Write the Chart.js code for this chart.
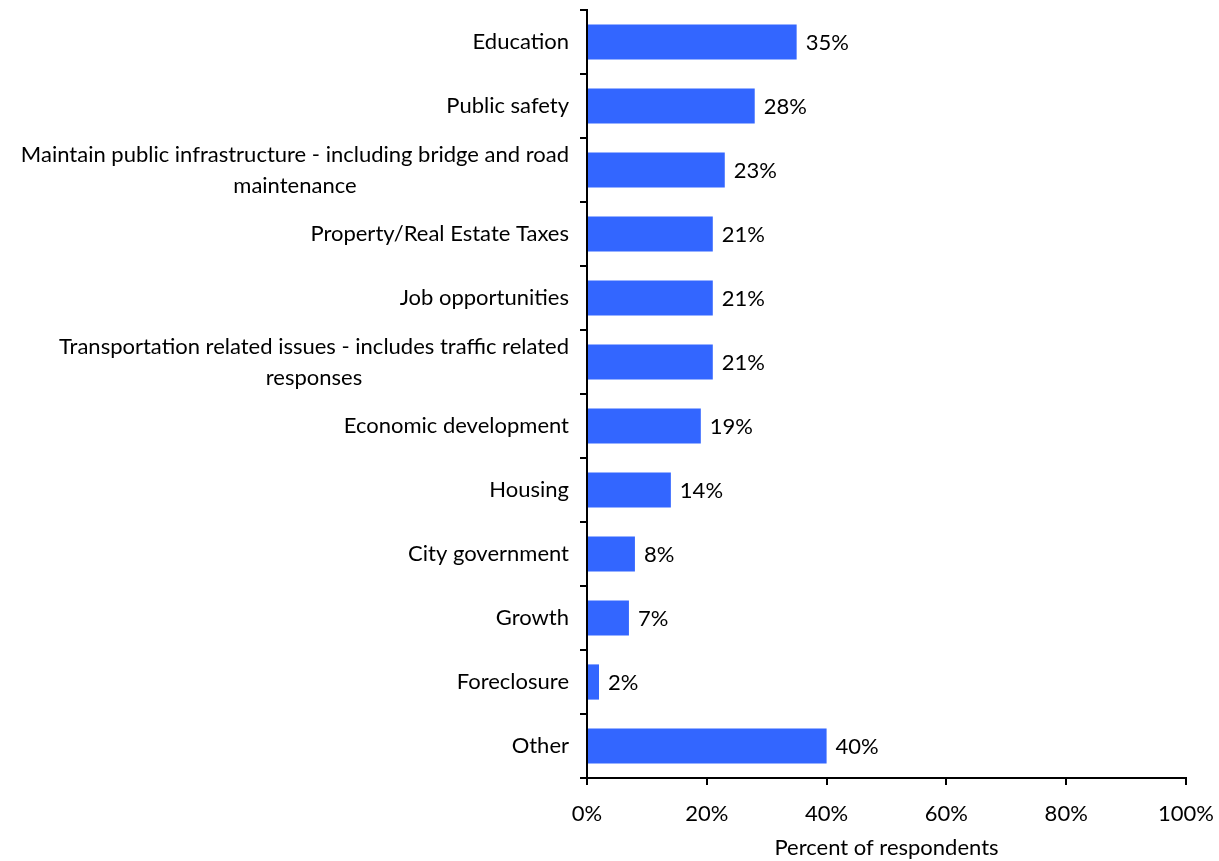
<!DOCTYPE html>
<html>
<head>
<meta charset="utf-8">
<script src="https://cdn.jsdelivr.net/npm/chart.js@4/dist/chart.umd.min.js"></script>
<style>
  html, body { margin: 0; padding: 0; background: #fff; }
  #wrap { width: 1219px; height: 861px; }
</style>
</head>
<body>
<div id="wrap"><canvas id="myChart" width="1219" height="861"></canvas></div>
<script>
// issues named by respondents
const categories = [
  ['Education'],
  ['Public safety'],
  ['Maintain public infrastructure - including bridge and road', 'maintenance'],
  ['Property/Real Estate Taxes'],
  ['Job opportunities'],
  ['Transportation related issues - includes traffic related', 'responses'],
  ['Economic development'],
  ['Housing'],
  ['City government'],
  ['Growth'],
  ['Foreclosure'],
  ['Other']
];
const percentValues = [35, 28, 23, 21, 21, 21, 19, 14, 8, 7, 2, 40];
const xTicks = [0, 20, 40, 60, 80, 100];

const FONT = 'Lato, sans-serif';
const FONT_SIZE = 22;

// draws the category names (centered lines, right edge near the axis) and the value labels
const labelsPlugin = {
  id: 'labels',
  afterDraw(chart) {
    const ctx = chart.ctx;
    const y = chart.scales.y;
    ctx.save();
    ctx.fillStyle = '#000';
    ctx.font = FONT_SIZE + 'px ' + FONT;
    ctx.textBaseline = 'middle';
    const lineH = 31;
    categories.forEach(function (lines, i) {
      const cy = y.getPixelForValue(i);
      let w = 0;
      lines.forEach(function (l) { w = Math.max(w, ctx.measureText(l).width); });
      const right = y.right - 18;
      const cx = right - w / 2;
      ctx.textAlign = 'center';
      lines.forEach(function (l, j) {
        const ly = cy + (j - (lines.length - 1) / 2) * lineH;
        ctx.fillText(l, cx, ly);
      });
    });
    const meta = chart.getDatasetMeta(0);
    ctx.textAlign = 'left';
    meta.data.forEach(function (bar, i) {
      ctx.fillText(percentValues[i] + '%', bar.x + 9, bar.y + 1);
    });
    ctx.restore();
  }
};

const ctx = document.getElementById('myChart').getContext('2d');
new Chart(ctx, {
  type: 'bar',
  data: {
    labels: categories.map(function (c) { return c.join(' '); }),
    datasets: [
      {
        label: 'Percent of respondents',
        backgroundColor: '#3366ff',
        borderWidth: 0,
        data: percentValues,
        barPercentage: 0.55,
        categoryPercentage: 1
      }
    ]
  },
  options: {
    indexAxis: 'y',
    responsive: false,
    animation: false,
    layout: { padding: { top: 10, right: 33, bottom: 0, left: 0 } },
    plugins: {
      legend: { display: false },
      tooltip: { enabled: false }
    },
    scales: {
      y: {
        offset: true,
        ticks: { display: false },
        afterFit: function (scale) { scale.width = 587; },
        grid: {
          offset: true,
          drawOnChartArea: false,
          drawTicks: true,
          tickLength: 7,
          color: '#000',
          lineWidth: 2
        },
        border: { color: '#000', width: 2 }
      },
      x: {
        min: 0,
        max: 100,
        afterBuildTicks: function (scale) {
          scale.ticks = xTicks.map(function (v) { return { value: v }; });
        },
        afterFit: function (scale) {
          scale.height = 83;
          scale.paddingLeft = 0;
          scale.paddingRight = 0;
        },
        ticks: {
          color: '#000',
          padding: 16,
          font: { family: FONT, size: FONT_SIZE },
          callback: function (v) { return v + '%'; }
        },
        grid: {
          drawOnChartArea: false,
          drawTicks: true,
          tickLength: 7,
          color: '#000',
          lineWidth: 2
        },
        border: { color: '#000', width: 2 },
        title: {
          display: true,
          text: 'Percent of respondents',
          color: '#000',
          font: { family: FONT, size: FONT_SIZE },
          padding: { top: 2, bottom: 0 }
        }
      }
    }
  },
  plugins: [labelsPlugin]
});
</script>
</body>
</html>
